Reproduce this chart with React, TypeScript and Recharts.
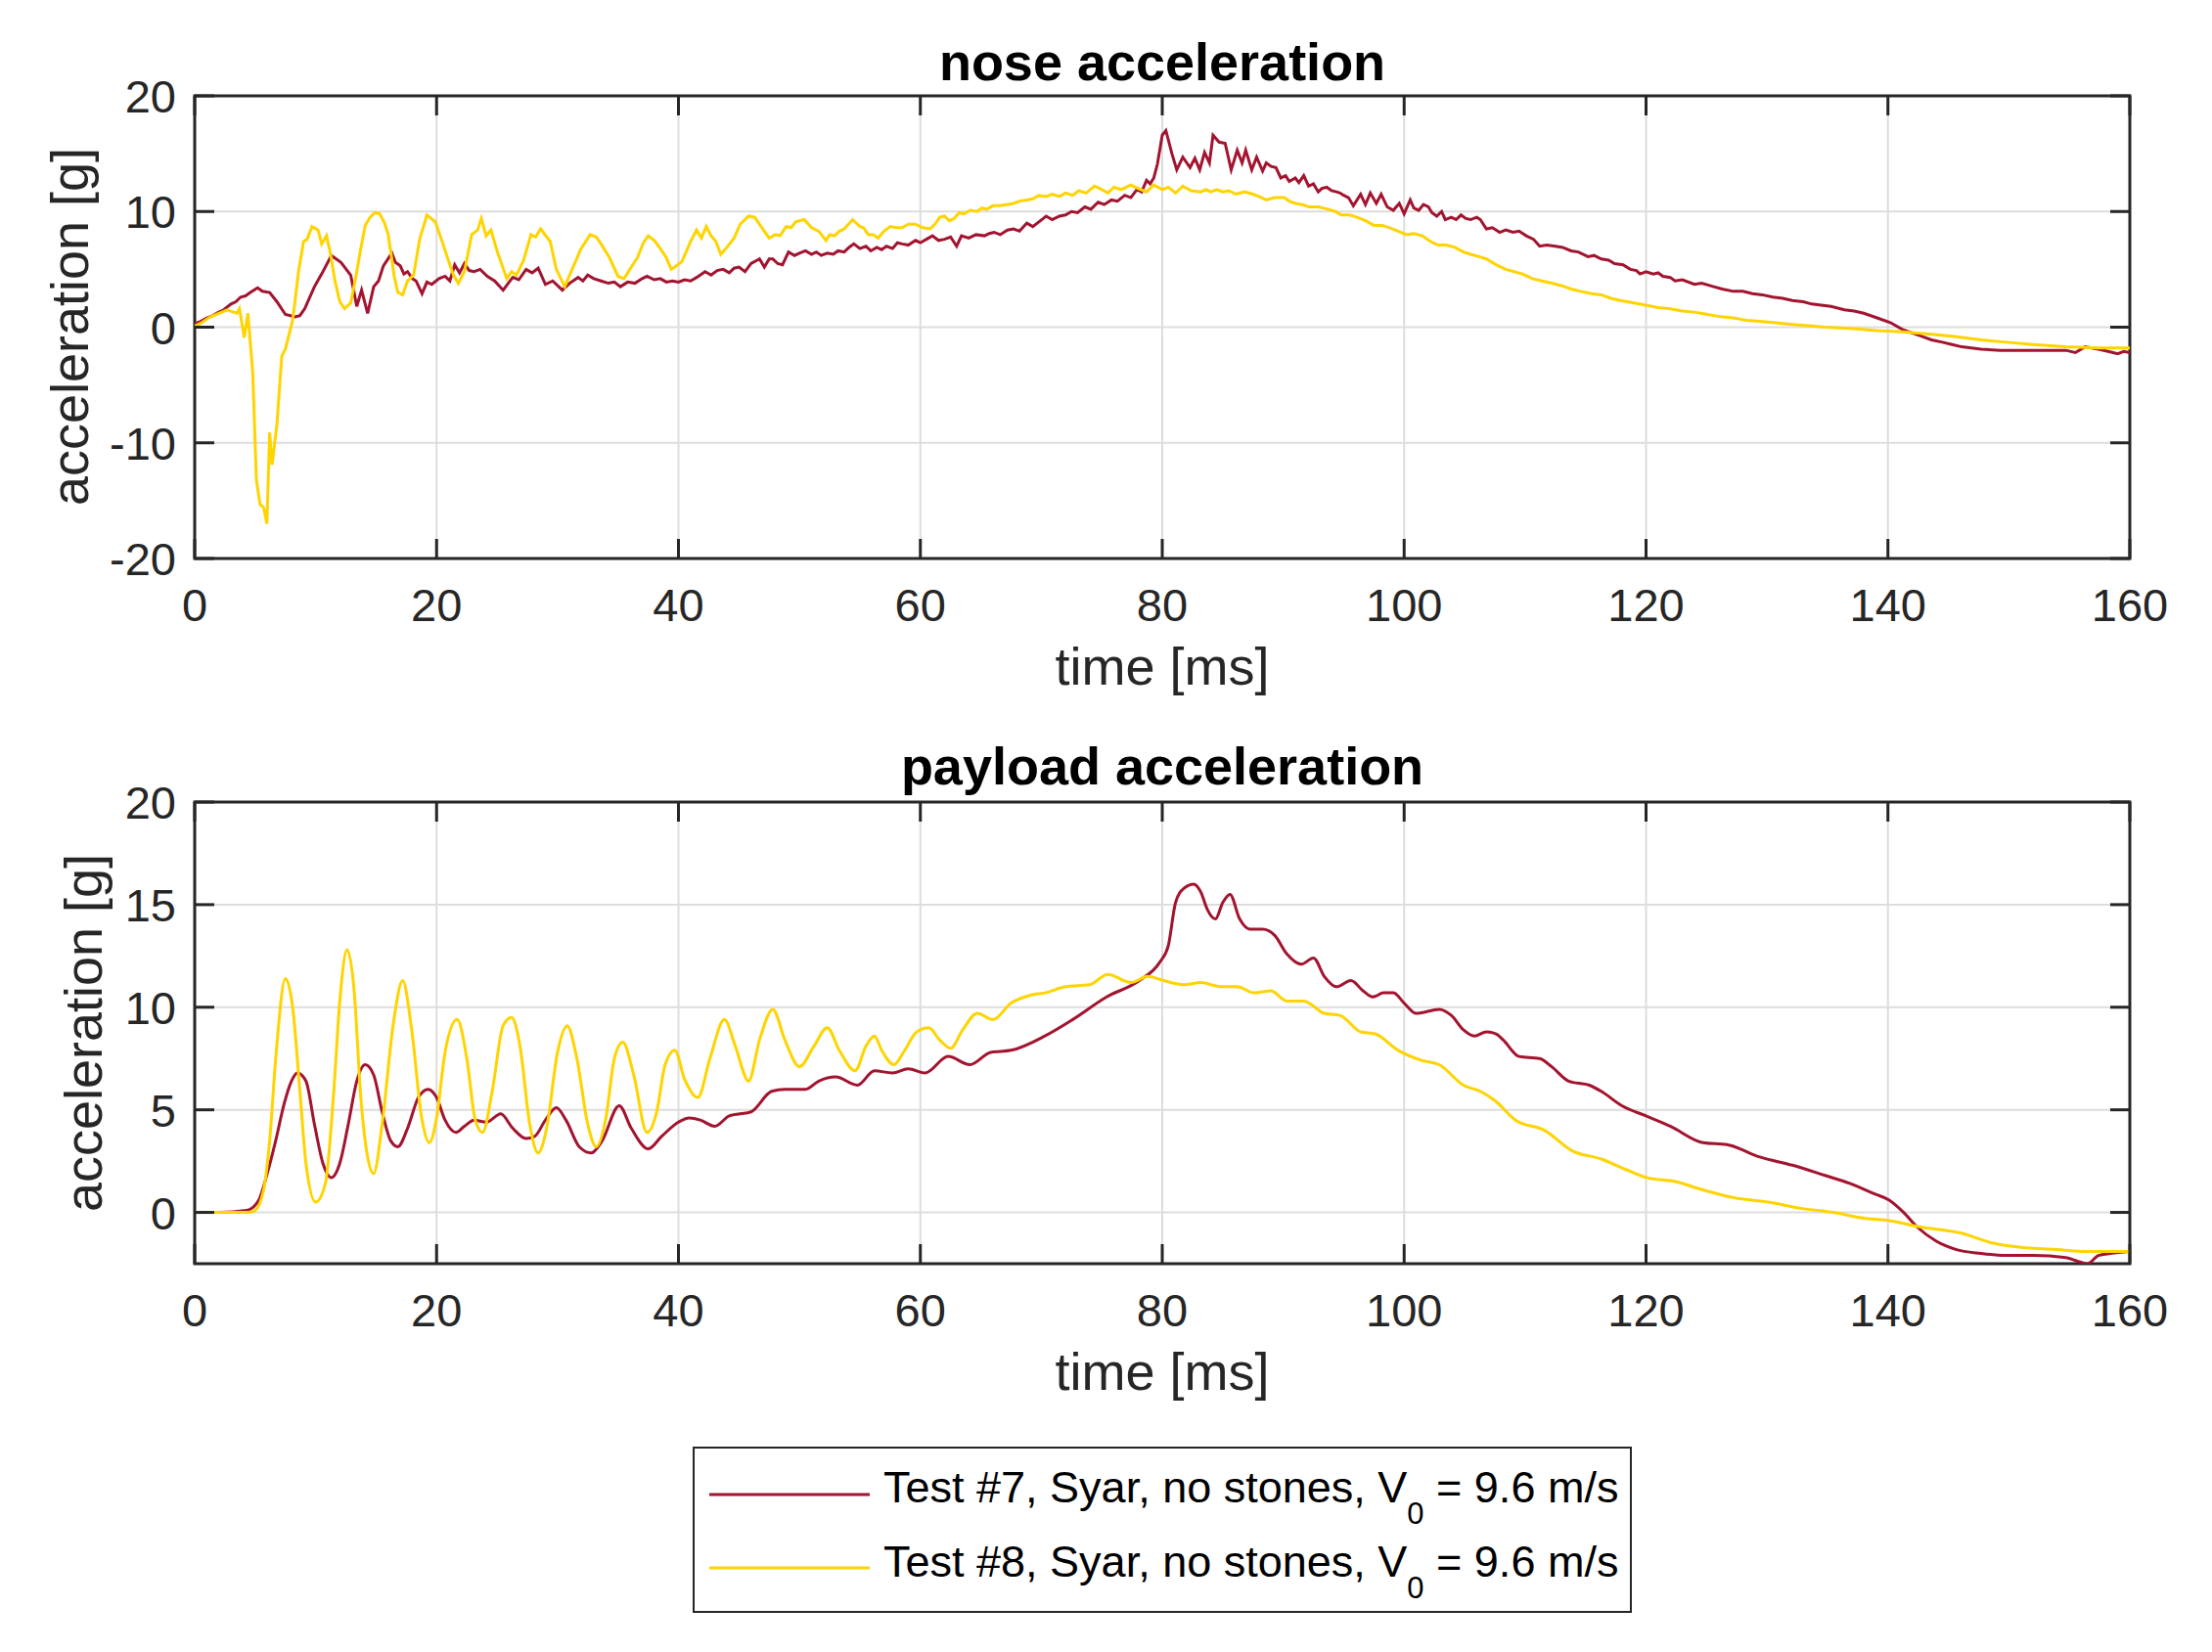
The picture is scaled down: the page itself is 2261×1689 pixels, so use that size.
import React from "react";
import {
  LineChart,
  Line,
  XAxis,
  YAxis,
  CartesianGrid,
  ReferenceArea,
} from "recharts";

// [time ms, acceleration g]
const noseTest7: [number, number][] = [
  [0, 0.3], [0.5, 0.5], [1, 0.8], [1.5, 1.0], [2, 1.3], [2.4, 1.5], [3, 2.0], [3.4, 2.2], [3.8, 2.6], [4.2, 2.7],
  [4.6, 3.0], [5.2, 3.4], [5.6, 3.1], [6.2, 3.0], [6.8, 2.2], [7.5, 1.1], [8.3, 0.9], [8.7, 1.0], [9.1, 1.6], [9.9, 3.5],
  [10.5, 4.6], [11.3, 6.2], [12.1, 5.6], [12.9, 4.5], [13.2, 2.9], [13.4, 1.8], [13.8, 3.2], [14.3, 1.2], [14.8, 3.5], [15.2, 4.0],
  [15.6, 5.3], [16.3, 6.4], [16.6, 5.6], [17, 5.3], [17.3, 4.6], [17.6, 4.8], [18, 4.2], [18.3, 4.0], [18.8, 2.9], [19.2, 3.9],
  [19.6, 3.7], [20.2, 4.2], [20.7, 4.4], [21.1, 4.0], [21.5, 5.4], [21.9, 4.7], [22.3, 5.5], [22.7, 4.9], [23.1, 4.8], [23.6, 5.0],
  [24.2, 4.4], [24.8, 4.0], [25.5, 3.2], [26, 3.9], [26.3, 4.3], [26.8, 4.1], [27.4, 5.0], [27.9, 4.7], [28.4, 5.1], [29, 3.7],
  [29.6, 4.0], [30.4, 3.2], [31, 3.8], [31.7, 4.3], [32.1, 4.0], [32.5, 4.5], [33, 4.2], [33.6, 4.0], [34.2, 3.8], [34.7, 3.9],
  [35.2, 3.5], [35.8, 3.9], [36.4, 3.8], [37, 4.2], [37.4, 4.4], [38, 4.1], [38.5, 4.2], [39, 3.9], [39.5, 4.0], [40, 3.9],
  [40.5, 4.1], [41, 4.0], [41.5, 4.3], [42.2, 4.8], [42.7, 4.5], [43.2, 4.9], [43.7, 5.0], [44.2, 4.7], [44.6, 5.1], [45, 5.2],
  [45.5, 4.8], [46, 5.5], [46.7, 5.9], [47.1, 5.2], [47.5, 5.9], [47.8, 5.9], [48.2, 5.5], [48.6, 5.4], [49.1, 6.5], [49.6, 6.2],
  [50, 6.4], [50.5, 6.6], [51, 6.3], [51.4, 6.5], [51.8, 6.2], [52.3, 6.4], [52.8, 6.3], [53.2, 6.6], [53.7, 6.5], [54.1, 6.9],
  [54.5, 7.2], [55, 6.8], [55.5, 7.0], [55.9, 6.6], [56.4, 6.9], [56.8, 6.7], [57.2, 7.0], [57.7, 6.8], [58.1, 7.3], [58.5, 7.2],
  [59, 7.1], [59.6, 7.5], [60, 7.3], [60.5, 7.6], [61, 7.9], [61.5, 7.5], [62, 7.6], [62.5, 7.8], [63, 7.0], [63.4, 7.9],
  [64, 7.7], [64.6, 8.0], [65.3, 7.9], [65.7, 8.1], [66.1, 8.2], [66.6, 8.0], [67.2, 8.4], [67.7, 8.5], [68.2, 8.3], [68.8, 9.0],
  [69.3, 8.7], [69.8, 9.1], [70.4, 9.6], [70.9, 9.3], [71.5, 9.6], [72, 9.7], [72.5, 10.0], [73, 9.9], [73.6, 10.4], [74.1, 10.2],
  [74.7, 10.8], [75.2, 10.6], [75.8, 11.0], [76.3, 10.9], [76.9, 11.4], [77.4, 11.2], [77.9, 11.9], [78.3, 11.7], [78.7, 12.7], [79, 12.4],
  [79.3, 12.9], [79.6, 14.1], [80, 16.6], [80.3, 17.0], [80.8, 15.0], [81.2, 13.6], [81.7, 14.7], [82.3, 13.8], [82.7, 14.6], [83.1, 13.6],
  [83.5, 15.1], [83.9, 14.2], [84.2, 16.6], [84.7, 16.0], [85.2, 15.9], [85.7, 13.6], [86.2, 15.3], [86.6, 14.2], [86.9, 15.3], [87.4, 13.6],
  [87.8, 14.7], [88.3, 13.5], [88.6, 14.2], [89, 13.9], [89.4, 13.8], [89.8, 12.9], [90.2, 13.1], [90.5, 12.6], [91, 12.9], [91.3, 12.5],
  [91.7, 13.1], [92.1, 12.2], [92.5, 12.4], [92.9, 11.7], [93.2, 12.0], [93.6, 12.1], [94, 11.8], [94.4, 11.7], [94.7, 11.6], [95, 11.4],
  [95.4, 11.2], [95.8, 10.5], [96.1, 11.0], [96.4, 11.5], [96.8, 10.6], [97.2, 11.6], [97.7, 10.7], [98.1, 11.5], [98.6, 10.4], [99.1, 10.1],
  [99.6, 10.7], [100, 9.8], [100.5, 11.0], [100.8, 10.3], [101.2, 10.1], [101.6, 10.6], [102, 10.4], [102.3, 9.9], [102.7, 9.6], [103.1, 10.0],
  [103.4, 9.3], [103.9, 9.5], [104.3, 9.3], [104.7, 9.7], [105.1, 9.4], [105.5, 9.3], [106, 9.5], [106.3, 9.3], [106.8, 8.5], [107.3, 8.6],
  [107.9, 8.2], [108.4, 8.4], [109, 8.2], [109.5, 8.3], [110.1, 7.9], [110.7, 7.6], [111.2, 7.0], [111.8, 7.1], [112.5, 7.0], [113.1, 6.9],
  [113.8, 6.6], [114.4, 6.5], [115.2, 6.1], [115.7, 6.2], [116.3, 5.9], [116.9, 5.8], [117.4, 5.5], [118.1, 5.4], [118.7, 5.0], [119.2, 4.9],
  [119.5, 4.6], [120, 4.8], [120.6, 4.6], [121, 4.7], [121.4, 4.4], [122, 4.3], [122.4, 4.0], [123, 4.1], [124, 3.7], [124.6, 3.8],
  [125.6, 3.5], [126.3, 3.3], [127.2, 3.1], [128, 3.1], [128.8, 2.9], [129.6, 2.8], [130.5, 2.6], [131.3, 2.5], [132.1, 2.3], [133, 2.2],
  [133.7, 2.0], [134.5, 1.9], [135.3, 1.8], [136.4, 1.5], [137.2, 1.4], [138, 1.2], [139.1, 0.8], [140.2, 0.4], [141.2, -0.2], [142, -0.5],
  [142.8, -0.8], [143.6, -1.1], [144.5, -1.3], [145.3, -1.5], [146.1, -1.7], [147.7, -1.9], [149.3, -2.0], [152, -2.0], [154.7, -2.0], [155.5, -2.2],
  [156.3, -1.7], [157.4, -1.9], [158.2, -2.1], [159, -2.3], [159.5, -2.1], [160, -2.2],
];

const noseTest8: [number, number][] = [
  [0, 0.1], [0.6, 0.4], [1.3, 0.9], [2, 1.2], [2.7, 1.5], [3.2, 1.3], [3.5, 1.2], [3.7, 1.6], [4.1, -0.9], [4.4, 1.2],
  [4.8, -3.9], [5.1, -13.2], [5.4, -15.3], [5.7, -15.6], [5.97, -17.0], [6.2, -9.1], [6.4, -11.9], [6.8, -8.4], [7.2, -2.5], [7.5, -1.9],
  [8.1, 0.6], [8.6, 4.9], [9, 7.4], [9.3, 7.6], [9.7, 8.7], [10.2, 8.4], [10.5, 7.2], [10.9, 7.9], [11.2, 6.5], [11.6, 4.0],
  [12, 2.2], [12.4, 1.6], [12.9, 2.1], [13.3, 4.2], [13.7, 6.6], [14.1, 8.8], [14.5, 9.5], [14.9, 9.9], [15.3, 9.8], [15.7, 9.0],
  [16, 8.0], [16.5, 4.4], [16.8, 3.0], [17.2, 2.8], [17.6, 4.0], [18.1, 4.5], [18.6, 7.6], [19.2, 9.7], [19.9, 9.1], [20.4, 7.6],
  [21, 5.7], [21.4, 4.5], [21.8, 3.8], [22.3, 4.8], [22.9, 8.0], [23.4, 8.4], [23.7, 9.4], [24.1, 7.9], [24.5, 8.4], [25, 6.6],
  [25.8, 4.2], [26.2, 4.8], [26.6, 4.5], [27.2, 5.8], [27.8, 8.0], [28.2, 7.8], [28.6, 8.5], [29.4, 7.4], [29.9, 5.0], [30.6, 3.5],
  [31, 4.5], [31.5, 5.7], [31.9, 6.7], [32.7, 8.0], [33.2, 7.8], [33.6, 7.2], [34.3, 6.0], [35, 4.4], [35.5, 4.2], [36.1, 5.2],
  [36.6, 6.0], [37.1, 7.3], [37.5, 7.9], [38, 7.5], [38.5, 6.8], [39, 6.0], [39.4, 5.0], [39.7, 5.2], [40.3, 5.7], [41, 7.4],
  [41.5, 8.4], [41.9, 7.7], [42.3, 8.7], [42.7, 7.9], [43.1, 7.4], [43.5, 6.3], [44, 6.9], [44.6, 7.7], [45.1, 8.9], [45.8, 9.6],
  [46.3, 9.5], [46.9, 8.6], [47.5, 7.7], [48, 8.0], [48.4, 7.9], [48.9, 8.7], [49.3, 8.6], [49.7, 9.1], [50.4, 9.3], [51, 8.6],
  [51.6, 8.3], [52.2, 7.5], [52.5, 8.0], [52.9, 7.9], [53.3, 8.3], [53.7, 8.5], [54.4, 9.3], [55, 8.7], [55.3, 8.6], [55.7, 8.0],
  [56.1, 8.0], [56.5, 7.7], [57, 8.3], [57.5, 8.7], [58, 8.6], [58.5, 8.6], [59, 8.9], [59.6, 8.9], [60.2, 8.6], [60.8, 8.5],
  [61.2, 8.9], [61.6, 9.5], [62, 9.6], [62.4, 9.2], [62.8, 9.4], [63.2, 9.9], [63.6, 9.8], [64.1, 10.1], [64.7, 10.0], [65.1, 10.3],
  [65.5, 10.2], [66, 10.5], [66.6, 10.5], [67.1, 10.6], [67.7, 10.7], [68.2, 10.9], [68.8, 11.0], [69.3, 11.1], [69.8, 11.4], [70.4, 11.3],
  [70.9, 11.5], [71.5, 11.3], [72, 11.6], [72.6, 11.4], [73.1, 11.8], [73.7, 11.6], [74.4, 12.2], [75, 11.9], [75.5, 11.6], [76, 12.1],
  [76.6, 11.9], [77.4, 12.3], [78, 12.0], [78.7, 11.7], [79.3, 12.3], [80, 11.9], [80.5, 12.1], [81.1, 11.6], [81.7, 12.2], [82.4, 11.8],
  [83.2, 11.7], [83.6, 11.9], [84, 11.7], [84.5, 11.9], [85, 11.7], [85.5, 11.8], [86.1, 11.5], [86.8, 11.7], [87.5, 11.5], [88, 11.3],
  [88.6, 11.0], [89.3, 11.2], [90.1, 11.2], [90.5, 10.9], [91, 10.7], [91.6, 10.6], [92.1, 10.4], [92.9, 10.4], [93.7, 10.2], [94.3, 10.0],
  [94.8, 9.7], [95.5, 9.7], [96.1, 9.5], [96.8, 9.2], [97.5, 8.8], [98.2, 8.8], [98.8, 8.6], [99.5, 8.3], [100.2, 8.0], [100.8, 8.1],
  [101.5, 7.9], [102.2, 7.4], [102.8, 7.1], [103.5, 7.1], [104.2, 6.9], [104.9, 6.5], [105.5, 6.3], [106.2, 6.1], [106.8, 5.9], [107.6, 5.4],
  [108.4, 5.0], [109.1, 4.8], [109.8, 4.6], [110.6, 4.2], [111.4, 4.0], [112.2, 3.8], [113, 3.6], [113.8, 3.3], [114.6, 3.1], [115.5, 2.9],
  [116.3, 2.8], [117.1, 2.5], [117.9, 2.3], [119, 2.1], [120, 1.9], [121, 1.7], [121.9, 1.6], [123, 1.4], [124, 1.3], [125.1, 1.1],
  [126.2, 0.9], [127.2, 0.8], [128.3, 0.6], [129.4, 0.5], [130.5, 0.4], [131.5, 0.3], [132.6, 0.2], [133.7, 0.1], [134.8, 0.0], [136.9, -0.1],
  [139.1, -0.3], [141.2, -0.4], [143.4, -0.6], [145.5, -0.8], [147.7, -1.1], [149.8, -1.3], [152, -1.5], [154.7, -1.7], [157.4, -1.8], [160, -1.8],
];

const payloadTest7: [number, number][] = [
  [0, 0], [2, 0], [4.3, 0.1], [5.3, 0.6], [6, 1.9], [6.7, 3.5], [7.4, 5.3], [8, 6.4], [8.5, 6.8], [9.2, 6.4],
  [9.9, 4.3], [10.6, 2.4], [11.3, 1.7], [12, 2.4], [12.7, 4.3], [13.4, 6.4], [14.1, 7.2], [14.8, 6.7], [15.5, 4.9], [16.2, 3.5],
  [16.8, 3.2], [17.6, 4.1], [18.5, 5.6], [19.3, 6.0], [20, 5.6], [20.7, 4.5], [21.6, 3.9], [22.3, 4.2], [23.1, 4.5], [24.1, 4.4],
  [25.3, 4.8], [26.3, 4.1], [27.4, 3.6], [28.1, 3.7], [29, 4.5], [29.9, 5.1], [30.7, 4.5], [31.8, 3.2], [32.8, 2.9], [33.7, 3.5],
  [35.1, 5.2], [36.1, 4.1], [37.5, 3.1], [38.6, 3.7], [40, 4.4], [40.9, 4.6], [41.8, 4.5], [43, 4.2], [44.2, 4.7], [46, 4.9],
  [47.7, 5.9], [48.8, 6.0], [50.5, 6.0], [51.6, 6.4], [53, 6.6], [54.8, 6.2], [56.2, 6.9], [57.7, 6.8], [59, 7.0], [60.4, 6.8],
  [62.3, 7.6], [64.1, 7.2], [65.8, 7.8], [67.5, 7.9], [70.3, 8.6], [72.6, 9.4], [75.4, 10.5], [78.1, 11.3], [79.8, 12.2], [80.5, 13.0],
  [81.1, 15.1], [81.8, 15.8], [82.6, 16.0], [83.2, 15.6], [83.7, 14.8], [84.4, 14.3], [85, 15.1], [85.6, 15.5], [86.4, 14.3], [87.3, 13.8],
  [88.3, 13.8], [89.3, 13.5], [90.3, 12.6], [91.5, 12.1], [92.5, 12.4], [93.4, 11.5], [94.4, 11.0], [95.6, 11.3], [96.6, 10.8], [97.4, 10.5],
  [98.3, 10.7], [99.1, 10.7], [100, 10.2], [101, 9.7], [102.9, 9.9], [103.9, 9.6], [104.9, 8.9], [105.8, 8.6], [106.8, 8.8], [107.6, 8.7],
  [108.2, 8.4], [109.5, 7.6], [111.2, 7.5], [112.2, 7.1], [113.6, 6.4], [115.3, 6.2], [116.3, 5.9], [118, 5.2], [120, 4.7], [122, 4.2],
  [124.7, 3.4], [126.7, 3.3], [129.4, 2.7], [132.1, 2.3], [134.8, 1.8], [136.9, 1.4], [138.9, 0.9], [140.1, 0.6], [141.3, 0.0], [142.4, -0.7],
  [144, -1.4], [145.6, -1.8], [147.7, -2.0], [149.7, -2.1], [152, -2.1], [154.7, -2.2], [155.8, -2.4], [156.5, -2.5], [157.4, -2.1], [158.4, -2.0],
  [160, -1.9],
];

const payloadTest8: [number, number][] = [
  [0, 0], [4.5, 0], [5, 0.1], [5.7, 1.1], [6.2, 3.5], [6.7, 7.5], [7.5, 11.4], [8.1, 10.0], [8.7, 5.9], [9.2, 2.4],
  [10, 0.5], [10.8, 1.4], [11.5, 5.9], [12, 10.3], [12.6, 12.8], [13.2, 10.7], [13.7, 5.9], [14.3, 2.7], [14.8, 1.9], [15.5, 4.3],
  [16.4, 9.1], [17.2, 11.3], [17.9, 9.1], [18.8, 4.5], [19.4, 3.4], [20, 4.6], [20.7, 7.8], [21.7, 9.4], [22.5, 7.5], [23.2, 4.5],
  [23.8, 3.9], [24.6, 5.9], [25.5, 9.1], [26.2, 9.5], [26.9, 8.1], [27.7, 4.3], [28.4, 2.9], [29.1, 4.1], [30, 7.8], [30.8, 9.1],
  [31.6, 7.5], [32.5, 4.3], [33.2, 3.2], [34, 4.6], [34.7, 7.5], [35.4, 8.3], [36.3, 6.7], [37.4, 3.9], [38.2, 4.9], [38.9, 7.2],
  [39.7, 7.9], [40.5, 6.5], [41.6, 5.6], [42.6, 7.5], [43.8, 9.4], [44.7, 8.1], [45.8, 6.4], [46.7, 8.4], [47.8, 9.9], [48.8, 8.4],
  [50, 7.1], [51.2, 8.1], [52.3, 9.0], [53.3, 7.9], [54.6, 6.9], [55.5, 8.1], [56.2, 8.6], [56.8, 7.9], [57.8, 7.2], [58.7, 7.9],
  [59.7, 8.8], [60.7, 9.0], [61.6, 8.4], [62.5, 8.0], [63.5, 8.9], [64.7, 9.7], [66, 9.4], [67.5, 10.2], [69.2, 10.6], [70.3, 10.7],
  [72, 11.0], [74, 11.1], [75.5, 11.6], [77.4, 11.2], [78.8, 11.5], [80.1, 11.3], [81.8, 11.1], [83.2, 11.2], [84.9, 11.0], [86.2, 11.0],
  [87.6, 10.7], [89, 10.8], [90.3, 10.3], [91.7, 10.3], [93.4, 9.7], [94.7, 9.6], [96.4, 8.8], [97.6, 8.7], [99.5, 7.9], [101.5, 7.4],
  [102.9, 7.2], [104.9, 6.2], [106.3, 5.9], [107.6, 5.4], [109.2, 4.5], [111.6, 4.0], [113.9, 3.0], [116.3, 2.6], [118.3, 2.1], [120, 1.7],
  [122.4, 1.5], [124.7, 1.1], [127.4, 0.7], [130.1, 0.5], [132.8, 0.2], [135.5, 0.0], [138.2, -0.3], [140.1, -0.4], [142.6, -0.7], [146, -1.0],
  [148.7, -1.5], [151, -1.7], [153.7, -1.8], [156.4, -1.9], [160, -1.9],
];

const timeTicks = [0, 20, 40, 60, 80, 100, 120, 140, 160];
const noseTicks = [-20, -10, 0, 10, 20];
const payloadTicks = [0, 5, 10, 15, 20];

const legendNames = ["Test #7, Syar, no stones, V", "Test #8, Syar, no stones, V"];
const legendTail = " = 9.6 m/s";

const RED = "#A2142F";
const YELLOW = "#FFD400";
const AXIS = "#262626";
const FONT = "'Liberation Sans', Arial, Helvetica, sans-serif";

const PLOT_LEFT = 199;
const PLOT_RIGHT = 2177;
const TOP_MARGIN = 98;
const TICK_LEN = 20;

const toRows = (pts: [number, number][]) => pts.map(([t, v]) => ({ t, v }));

function makeXTick(plotTop: number, plotBottom: number) {
  return (props: any) => {
    const { x, payload } = props;
    return (
      <g>
        <line x1={x} x2={x} y1={plotBottom} y2={plotBottom - TICK_LEN} stroke={AXIS} strokeWidth={3} />
        <line x1={x} x2={x} y1={plotTop} y2={plotTop + TICK_LEN} stroke={AXIS} strokeWidth={3} />
        <text x={x} y={plotBottom + 64} textAnchor="middle" fontSize={47} fill={AXIS} fontFamily={FONT}>
          {payload.value}
        </text>
      </g>
    );
  };
}

function makeYTick() {
  return (props: any) => {
    const { y, payload } = props;
    return (
      <g>
        <line x1={PLOT_LEFT} x2={PLOT_LEFT + TICK_LEN} y1={y} y2={y} stroke={AXIS} strokeWidth={3} />
        <line x1={PLOT_RIGHT} x2={PLOT_RIGHT - TICK_LEN} y1={y} y2={y} stroke={AXIS} strokeWidth={3} />
        <text x={180} y={y + 17} textAnchor="end" fontSize={47} fill={AXIS} fontFamily={FONT}>
          {payload.value}
        </text>
      </g>
    );
  };
}

type PanelProps = {
  top: number;
  plotHeight: number;
  yDomain: [number, number];
  yTicks: number[];
  series7: [number, number][];
  series8: [number, number][];
  curve: "linear" | "monotone";
};

function Panel({ top, plotHeight, yDomain, yTicks, series7, series8, curve }: PanelProps) {
  const height = TOP_MARGIN + plotHeight + 149;
  const plotTop = TOP_MARGIN;
  const plotBottom = TOP_MARGIN + plotHeight;
  return (
    <div style={{ position: "absolute", left: 0, top }}>
      <LineChart
        width={2261}
        height={height}
        margin={{ top: TOP_MARGIN, right: 2261 - PLOT_RIGHT, bottom: 0, left: 0 }}
      >
        <CartesianGrid stroke="#dddddd" strokeWidth={2} />
        <XAxis
          type="number"
          dataKey="t"
          domain={[0, 160]}
          ticks={timeTicks}
          allowDataOverflow
          axisLine={false}
          tickLine={false}
          height={149}
          tick={makeXTick(plotTop, plotBottom)}
          interval={0}
        />
        <YAxis
          type="number"
          domain={yDomain}
          ticks={yTicks}
          allowDataOverflow
          axisLine={false}
          tickLine={false}
          width={PLOT_LEFT}
          tick={makeYTick()}
          interval={0}
        />
        <Line
          data={toRows(series7)}
          dataKey="v"
          type={curve}
          stroke={RED}
          strokeWidth={3}
          dot={false}
          isAnimationActive={false}
        />
        <Line
          data={toRows(series8)}
          dataKey="v"
          type={curve}
          stroke={YELLOW}
          strokeWidth={3}
          dot={false}
          isAnimationActive={false}
        />
        <ReferenceArea
          x1={0}
          x2={160}
          y1={yDomain[0]}
          y2={yDomain[1]}
          fill="none"
          fillOpacity={0}
          stroke={AXIS}
          strokeWidth={3}
        />
      </LineChart>
    </div>
  );
}

function Labels() {
  const cx = (PLOT_LEFT + PLOT_RIGHT) / 2;
  return (
    <svg
      width={2261}
      height={1689}
      style={{ position: "absolute", left: 0, top: 0, pointerEvents: "none" }}
      fontFamily={FONT}
    >
      <text x={cx} y={82} textAnchor="middle" fontSize={54} fontWeight="bold" fill="#000">
        nose acceleration
      </text>
      <text x={cx} y={700} textAnchor="middle" fontSize={54} fill={AXIS}>
        time [ms]
      </text>
      <text transform="translate(90,334) rotate(-90)" textAnchor="middle" fontSize={54} fill={AXIS}>
        acceleration [g]
      </text>
      <text x={cx} y={802} textAnchor="middle" fontSize={54} fontWeight="bold" fill="#000">
        payload acceleration
      </text>
      <text x={cx} y={1421} textAnchor="middle" fontSize={54} fill={AXIS}>
        time [ms]
      </text>
      <text transform="translate(104,1056) rotate(-90)" textAnchor="middle" fontSize={54} fill={AXIS}>
        acceleration [g]
      </text>
    </svg>
  );
}

function LegendBox() {
  const colors = [RED, YELLOW];
  return (
    <svg width={960} height={170} style={{ position: "absolute", left: 708, top: 1479 }} fontFamily={FONT}>
      <rect x={1} y={1} width={958} height={168} fill="#fff" stroke={AXIS} strokeWidth={2} />
      {legendNames.map((name, i) => {
        const lineY = 49 + i * 75;
        const base = 57 + i * 76;
        return (
          <g key={name}>
            <line x1={17} x2={181} y1={lineY} y2={lineY} stroke={colors[i]} strokeWidth={3} />
            <text x={195} y={base} fontSize={45} fill="#000" style={{ whiteSpace: "pre" }}>
              {name}
              <tspan dy={22} fontSize={31}>0</tspan>
              <tspan dy={-22}>{legendTail}</tspan>
            </text>
          </g>
        );
      })}
    </svg>
  );
}

export default function App() {
  return (
    <div
      style={{
        position: "absolute",
        left: 0,
        top: 0,
        width: 2261,
        height: 1689,
        background: "#fff",
        fontFamily: FONT,
      }}
    >
      <Panel
        top={0}
        plotHeight={473}
        yDomain={[-20, 20]}
        yTicks={noseTicks}
        series7={noseTest7}
        series8={noseTest8}
        curve="linear"
      />
      <Panel
        top={722}
        plotHeight={472}
        yDomain={[-2.5, 20]}
        yTicks={payloadTicks}
        series7={payloadTest7}
        series8={payloadTest8}
        curve="monotone"
      />
      <Labels />
      <LegendBox />
    </div>
  );
}
